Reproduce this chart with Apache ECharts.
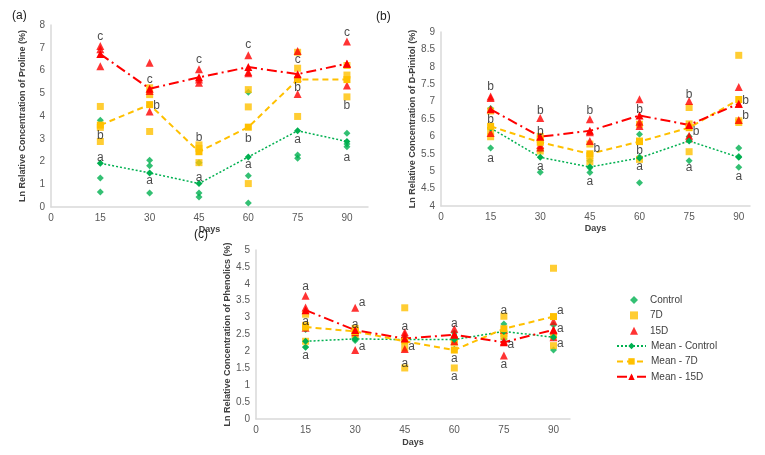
<!DOCTYPE html>
<html>
<head>
<meta charset="utf-8">
<title>Ln Relative Concentration</title>
<script src="https://cdn.jsdelivr.net/npm/echarts@6/dist/echarts.min.js"></script>
<style>
html, body { margin: 0; padding: 0; background: #fff; }
#main { width: 765px; height: 455px; }
</style>
</head>
<body>
<div id="main"></div>
<script>
/** ----------------数据------------------------- */
var days = [15, 30, 45, 60, 75, 90];

// (a) Proline, 3 replicates per day
var prolineControl = [[3.81, 1.28, 0.66], [2.06, 1.81, 0.62], [1.95, 0.62, 0.44], [5.04, 1.37, 0.18], [5.62, 2.29, 2.14], [3.24, 2.77, 2.65]];
var proline7D = [[4.42, 3.5, 2.88], [5.24, 4.94, 3.32], [2.73, 2.58, 1.95], [5.16, 4.4, 1.03], [6.8, 6.1, 3.98], [6.22, 5.8, 4.84]];
var proline15D = [[7.08, 6.93, 6.19], [6.34, 5.1, 4.2], [6.05, 5.6, 5.46], [6.67, 5.93, 5.88], [6.86, 5.68, 4.97], [7.27, 6.3, 5.34]];
var prolineMeanControl = [1.92, 1.5, 1.03, 2.2, 3.35, 2.88];
var prolineMean7D = [3.6, 4.5, 2.43, 3.51, 5.6, 5.6];
var prolineMean15D = [6.72, 5.2, 5.7, 6.15, 5.84, 6.3];
var prolineLetters = [
	[15, 7.49, 'c', ''], [15, 3.13, 'b', ''], [15, 2.17, 'a', ''],
	[30, 5.6, 'c', ''], [30, 4.45, 'b', 'r'], [30, 1.15, 'a', ''],
	[45, 6.46, 'c', ''], [45, 3.05, 'b', ''], [45, 1.3, 'a', ''],
	[60, 7.15, 'c', ''], [60, 3.02, 'b', ''], [60, 1.84, 'a', ''],
	[75, 6.49, 'c', ''], [75, 5.24, 'b', ''], [75, 2.98, 'a', ''],
	[90, 7.67, 'c', ''], [90, 4.45, 'b', ''], [90, 2.17, 'a', '']
];

// (b) D-Pinitol
var pinitolControl = [[6.8, 6.25, 5.67], [5.62, 5.6, 4.97], [5.3, 5.1, 4.96], [6.06, 5.41, 4.67], [6.3, 6.0, 5.3], [5.67, 5.42, 5.11]];
var pinitol7D = [[6.73, 6.15, 5.99], [6.0, 5.92, 5.58], [5.78, 5.45, 5.27], [6.35, 5.87, 5.34], [6.83, 6.36, 5.56], [8.33, 6.45, 6.4]];
var pinitol15D = [[7.15, 7.1, 6.1], [6.53, 5.75, 5.68], [6.49, 6.12, 5.87], [7.07, 6.42, 6.3], [7.02, 6.02, 5.95], [7.42, 6.93, 6.47]];
var pinitolMeanControl = [6.24, 5.4, 5.12, 5.38, 5.87, 5.4];
var pinitolMean7D = [6.29, 5.83, 5.5, 5.85, 6.25, 7.06];
var pinitolMean15D = [6.78, 5.99, 6.16, 6.6, 6.33, 6.94];
var pinitolLetters = [
	[15, 7.44, 'b', ''], [15, 6.47, 'b', ''], [15, 5.37, 'a', ''],
	[30, 6.73, 'b', ''], [30, 6.13, 'b', ''], [30, 5.13, 'a', ''],
	[45, 6.73, 'b', ''], [45, 5.65, 'b', 'r'], [45, 4.7, 'a', ''],
	[60, 6.77, 'b', ''], [60, 5.6, 'b', ''], [60, 5.13, 'a', ''],
	[75, 7.21, 'b', ''], [75, 6.13, 'b', 'r'], [75, 5.11, 'a', ''],
	[90, 7.02, 'b', 'r'], [90, 6.6, 'b', 'r'], [90, 4.84, 'a', '']
];

// (c) Phenolics
var phenolicsControl = [[2.65, 2.13, 2.12], [2.42, 2.37, 2.32], [2.4, 2.35, 2.3], [2.55, 2.45, 2.06], [2.81, 2.6, 2.37], [2.78, 2.45, 2.04]];
var phenolics7D = [[3.1, 2.77, 2.3], [2.68, 2.6, 2.5], [3.29, 2.1, 1.51], [2.35, 2.27, 1.51], [3.04, 2.52, 2.45], [4.46, 2.46, 2.17]];
var phenolics15D = [[3.65, 3.3, 2.7], [3.29, 2.57, 2.04], [2.57, 2.5, 2.07], [2.67, 2.5, 2.3], [2.64, 2.3, 1.88], [2.89, 2.62, 2.42]];
var phenolicsMeanControl = [2.3, 2.37, 2.35, 2.35, 2.59, 2.42];
var phenolicsMean7D = [2.72, 2.59, 2.3, 2.04, 2.67, 3.03];
var phenolicsMean15D = [3.22, 2.63, 2.38, 2.49, 2.27, 2.64];
var phenolicsLetters = [
	[15, 3.9, 'a', ''], [15, 2.89, 'a', ''], [15, 1.88, 'a', ''],
	[30, 3.44, 'a', 'r'], [30, 2.8, 'a', ''], [30, 2.14, 'a', 'r'],
	[45, 2.74, 'a', ''], [45, 2.14, 'a', 'r'], [45, 1.65, 'a', ''],
	[60, 2.81, 'a', ''], [60, 1.78, 'a', ''], [60, 1.25, 'a', ''],
	[75, 3.19, 'a', ''], [75, 2.2, 'a', 'r'], [75, 1.6, 'a', ''],
	[90, 3.19, 'a', 'r'], [90, 2.67, 'a', 'r'], [90, 2.22, 'a', 'r']
];

var GREEN = '#00B050';
var YELLOW = '#FFC000';
var RED = '#FF0000';
var FONT = 'Liberation Sans, Arial, sans-serif';

/** --------工具函数 ------ */
function toPoints(reps) {
	var pts = [];
	for (var i = 0; i < days.length; i++) {
		for (var j = 0; j < reps[i].length; j++) {
			pts.push([days[i], reps[i][j]]);
		}
	}
	return pts;
}

function toLine(means) {
	var pts = [];
	for (var i = 0; i < days.length; i++) {
		pts.push([days[i], means[i]]);
	}
	return pts;
}

function scatterSeries(name, idx, reps, symbol, color, size) {
	return {
		name: name, type: 'scatter', xAxisIndex: idx, yAxisIndex: idx,
		symbol: symbol, symbolSize: size,
		itemStyle: { color: color },
		data: toPoints(reps)
	};
}

function meanSeries(name, idx, means, symbol, color, size, width, dash) {
	return {
		name: name, type: 'line', xAxisIndex: idx, yAxisIndex: idx,
		symbol: symbol, symbolSize: size, showAllSymbol: true,
		itemStyle: { color: color },
		lineStyle: { color: color, width: width, type: dash },
		data: toLine(means)
	};
}

function letterSeries(idx, letters) {
	var data = [];
	for (var i = 0; i < letters.length; i++) {
		var l = letters[i];
		data.push({
			value: [l[0], l[1], l[2]],
			label: l[3] == 'r' ? { position: 'right', distance: 3 } : { position: 'inside' }
		});
	}
	return {
		type: 'scatter', xAxisIndex: idx, yAxisIndex: idx, silent: true, z: 5,
		symbolSize: 1,
		itemStyle: { color: 'rgba(0,0,0,0)' },
		label: {
			show: true, color: '#1a1a1a', fontSize: 12, fontFamily: FONT,
			formatter: function (p) { return p.value[2]; }
		},
		data: data
	};
}

function panelSeries(idx, c, d7, d15, mc, m7, m15, letters) {
	return [
		scatterSeries('Control', idx, c, 'diamond', GREEN, 7),
		scatterSeries('7D', idx, d7, 'rect', YELLOW, 7),
		scatterSeries('15D', idx, d15, 'triangle', RED, 8),
		meanSeries('Mean - Control', idx, mc, 'diamond', GREEN, 7, 1.5, [2, 2]),
		meanSeries('Mean - 7D', idx, m7, 'rect', YELLOW, 7, 2, [6, 4]),
		meanSeries('Mean - 15D', idx, m15, 'triangle', RED, 8, 2, [10, 4, 2, 4]),
		letterSeries(idx, letters)
	];
}

function xAxisOf(idx, max, gap) {
	return {
		gridIndex: idx, type: 'value', min: 0, max: max, interval: 15,
		name: 'Days', nameLocation: 'middle', nameGap: gap,
		nameTextStyle: { fontWeight: 'bold', fontSize: 9, color: '#404040', fontFamily: FONT },
		axisLine: { show: true, lineStyle: { color: '#D9D9D9', width: 1.5 } },
		axisTick: { show: false },
		splitLine: { show: false },
		axisLabel: { color: '#595959', fontSize: 10, fontFamily: FONT, margin: 6, showMaxLabel: false }
	};
}

function yAxisOf(idx, min, max, interval, name, gap) {
	return {
		gridIndex: idx, type: 'value', min: min, max: max, interval: interval,
		name: name, nameLocation: 'middle', nameGap: gap,
		nameTextStyle: { fontWeight: 'bold', fontSize: 9, color: '#404040', fontFamily: FONT },
		axisLine: { show: true, lineStyle: { color: '#D9D9D9', width: 1.5 } },
		axisTick: { show: false },
		splitLine: { show: false },
		axisLabel: { color: '#595959', fontSize: 10, fontFamily: FONT, margin: 6 }
	};
}

/** --------加载图表 ------ */
function initChart() {
	var chart = echarts.init(document.getElementById('main'), null, { renderer: 'canvas' });
	var series = []
		.concat(panelSeries(0, prolineControl, proline7D, proline15D, prolineMeanControl, prolineMean7D, prolineMean15D, prolineLetters))
		.concat(panelSeries(1, pinitolControl, pinitol7D, pinitol15D, pinitolMeanControl, pinitolMean7D, pinitolMean15D, pinitolLetters))
		.concat(panelSeries(2, phenolicsControl, phenolics7D, phenolics15D, phenolicsMeanControl, phenolicsMean7D, phenolicsMean15D, phenolicsLetters));

	var option = {
		backgroundColor: '#fff',
		animation: false,
		textStyle: { fontFamily: FONT },
		title: [
			{ text: '(a)', left: 7, top: 5, textStyle: { fontSize: 12, fontWeight: 'normal', color: '#1a1a1a' } },
			{ text: '(b)', left: 371, top: 6, textStyle: { fontSize: 12, fontWeight: 'normal', color: '#1a1a1a' } },
			{ text: '(c)', left: 189, top: 224, textStyle: { fontSize: 12, fontWeight: 'normal', color: '#1a1a1a' } }
		],
		legend: [{
			// 散点图例
			orient: 'vertical', left: 625, top: 290,
			itemWidth: 8, itemHeight: 8, itemGap: 5.4,
			textStyle: { fontSize: 10, color: '#404040', fontFamily: FONT, padding: [0, 0, 0, 7] },
			data: ['Control', '7D', '15D']
		}, {
			// 均值折线图例
			orient: 'vertical', left: 611, top: 336,
			itemWidth: 29, itemHeight: 8, itemGap: 5.4,
			textStyle: { fontSize: 10, color: '#404040', fontFamily: FONT },
			data: ['Mean - Control', 'Mean - 7D', 'Mean - 15D']
		}],
		grid: [
			{ left: 51, top: 25, width: 317, height: 182 },
			{ left: 441, top: 32, width: 309, height: 174 },
			{ left: 256, top: 250, width: 314, height: 169 }
		],
		xAxis: [xAxisOf(0, 96.4, 18), xAxisOf(1, 93.4, 18), xAxisOf(2, 95, 19)],
		yAxis: [
			yAxisOf(0, 0, 8, 1, 'Ln Relative Concentration of Proline (%)', 24),
			yAxisOf(1, 4, 9, 0.5, 'Ln Relative Concentration of D-Pinitol (%)', 22),
			yAxisOf(2, 0, 5, 0.5, 'Ln Relative Concentration of Phenolics (%)', 19)
		],
		series: series
	};
	chart.setOption(option);
}

initChart();
</script>
</body>
</html>
